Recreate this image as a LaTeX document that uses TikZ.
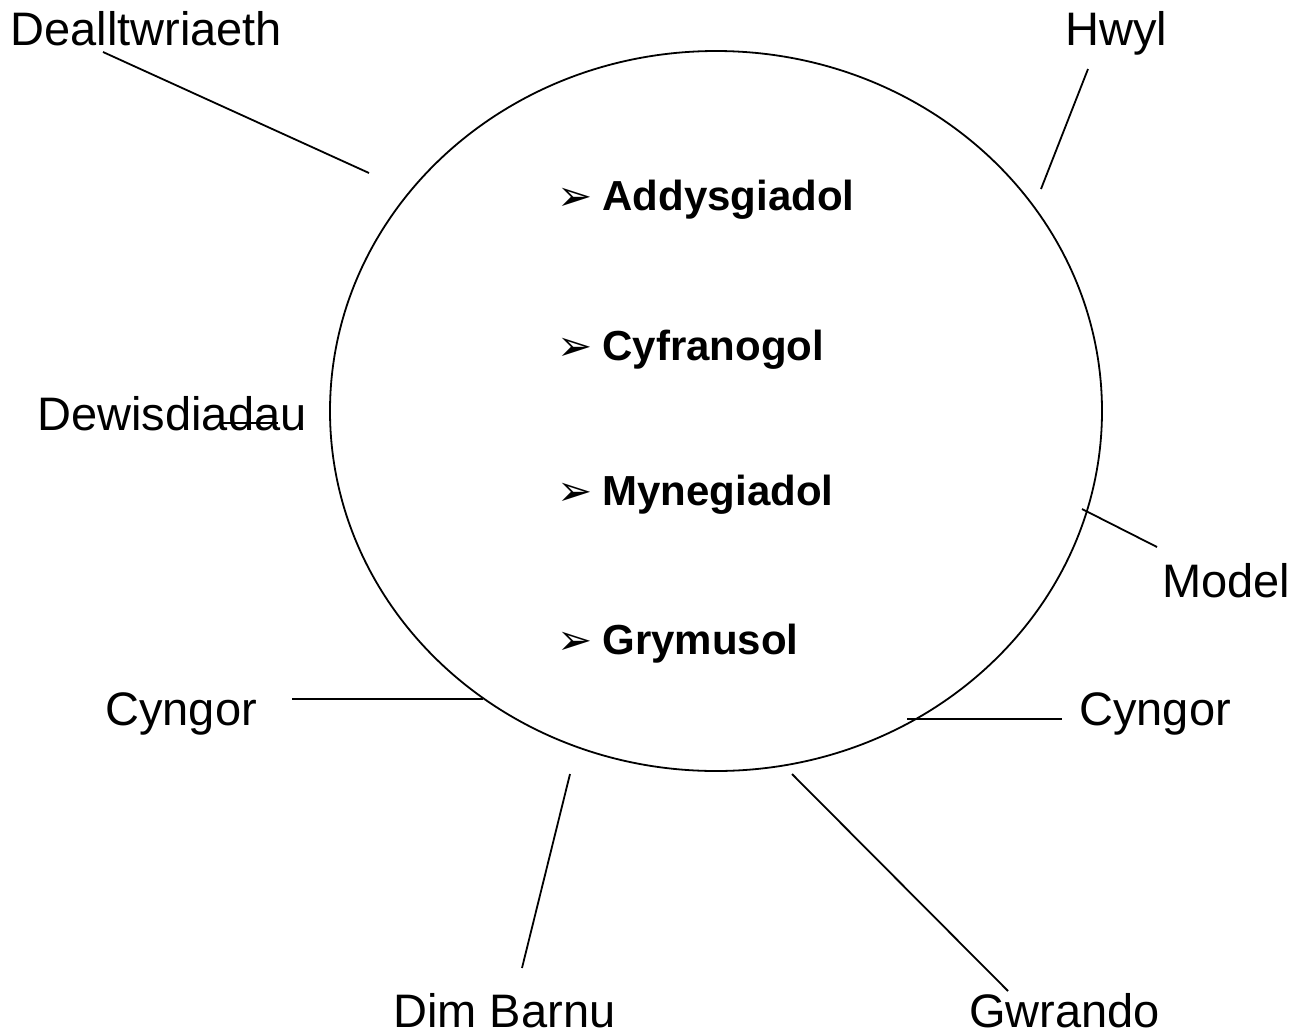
\documentclass[tikz,border=0pt]{standalone}
\usepackage{fontspec}
\setmainfont{Liberation Sans}
\newfontfamily\symfont{DejaVu Sans}
\usetikzlibrary{shapes.geometric}

\begin{document}
\begin{tikzpicture}[
    x=0.5pt, y=-0.5pt,
    ring/.style={draw, ellipse, line width=0.9pt, inner sep=0pt, minimum width=386pt, minimum height=360pt},
    word/.style={anchor=base west, inner sep=0pt, font=\fontsize{23.5}{28}\selectfont},
    item/.style={anchor=base west, inner sep=0pt, font=\fontsize{21}{25}\selectfont\bfseries},
    spoke/.style={line width=0.9pt}
]
\useasboundingbox (0,0) rectangle (1297,1034);

\node[ring] (ring) at (716,411) {};

\node[item] (addysg) at (557,210) {{\symfont\mdseries ➢}\hspace{5pt}Addysgiadol};
\node[item] (cyfran) at (557,360) {{\symfont\mdseries ➢}\hspace{5pt}Cyfranogol};
\node[item] (mynegi) at (557,505) {{\symfont\mdseries ➢}\hspace{5pt}Mynegiadol};
\node[item] (grymus) at (557,654) {{\symfont\mdseries ➢}\hspace{5pt}Grymusol};

\node[word] (deall) at (10,45) {Dealltwriaeth};
\node[word] (hwyl) at (1065,45) {Hwyl};
\node[word] (dewis) at (37,430) {Dewisdiadau};
\node[word] (model) at (1162,597) {Model};
\node[word] (cyngorL) at (105,725) {Cyngor};
\node[word] (cyngorR) at (1079,725) {Cyngor};
\node[word] (barnu) at (393,1027) {Dim Barnu};
\node[word] (gwrando) at (969,1027) {Gwrando};

\coordinate (deallA) at (103,52);
\coordinate (deallB) at (369,173);
\coordinate (hwylA) at (1088,69);
\coordinate (hwylB) at (1041,189);
\coordinate (dewisA) at (223,423);
\coordinate (dewisB) at (278,423);
\coordinate (modelA) at (1082,509);
\coordinate (modelB) at (1157,547);
\coordinate (cyngorLA) at (292,699);
\coordinate (cyngorLB) at (483,699);
\coordinate (cyngorRA) at (907,719);
\coordinate (cyngorRB) at (1062,719);
\coordinate (barnuA) at (570,774);
\coordinate (barnuB) at (522,968);
\coordinate (gwrandoA) at (792,774);
\coordinate (gwrandoB) at (1008,991);

\draw[spoke] (deallA) -- (deallB);
\draw[spoke] (hwylA) -- (hwylB);
\draw[spoke] (dewisA) -- (dewisB);
\draw[spoke] (modelA) -- (modelB);
\draw[spoke] (cyngorLA) -- (cyngorLB);
\draw[spoke] (cyngorRA) -- (cyngorRB);
\draw[spoke] (barnuA) -- (barnuB);
\draw[spoke] (gwrandoA) -- (gwrandoB);
\end{tikzpicture}
\end{document}
